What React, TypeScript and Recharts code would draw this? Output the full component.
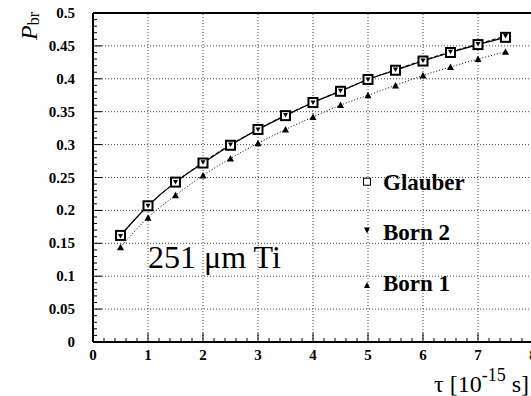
import React from "react";
import { LineChart, Line, XAxis, YAxis, ReferenceLine, Legend } from "recharts";

const tau = [0.5, 1, 1.5, 2, 2.5, 3, 3.5, 4, 4.5, 5, 5.5, 6, 6.5, 7, 7.5];
const glauber = [0.162, 0.207, 0.243, 0.272, 0.299, 0.323, 0.344, 0.364, 0.381, 0.399, 0.413, 0.427, 0.44, 0.452, 0.463];
const born2 = [0.161, 0.207, 0.243, 0.273, 0.3, 0.323, 0.345, 0.364, 0.382, 0.399, 0.414, 0.428, 0.441, 0.453, 0.465];
const born1 = [0.144, 0.189, 0.223, 0.253, 0.279, 0.302, 0.323, 0.342, 0.36, 0.375, 0.39, 0.405, 0.418, 0.43, 0.441];

const xMajor = [0, 1, 2, 3, 4, 5, 6, 7, 8];
const yMajor = [0, 0.05, 0.1, 0.15, 0.2, 0.25, 0.3, 0.35, 0.4, 0.45, 0.5];
const yMajorLabels = ["0", "0.05", "0.1", "0.15", "0.2", "0.25", "0.3", "0.35", "0.4", "0.45", "0.5"];
const xGrid = [1, 2, 3, 4, 5, 6, 7];
const yGrid = [0.05, 0.1, 0.15, 0.2, 0.25, 0.3, 0.35, 0.4, 0.45];

const xTicks: number[] = [];
for (let i = 0; i <= 40; i++) xTicks.push(Math.round(i * 20) / 100);
const yTicks: number[] = [];
for (let i = 0; i <= 50; i++) yTicks.push(i / 100);

const data = tau.map((t, i) => ({ tau: t, glauber: glauber[i], born2: born2[i], born1: born1[i] }));

const serif = "Liberation Serif, Times New Roman, serif";

const XTick = (props: any) => {
  const { x, y, payload } = props;
  const v = payload.value as number;
  const idx = xMajor.findIndex((m) => Math.abs(m - v) < 1e-6);
  const major = idx >= 0;
  return (
    <g>
      <line x1={x} x2={x} y1={y} y2={y - (major ? 9 : 4)} stroke="#000" strokeWidth={1} />
      {major && (
        <text x={x} y={y + 18} textAnchor="middle" fontFamily={serif} fontWeight="bold" fontSize={15} fill="#000">
          {String(xMajor[idx])}
        </text>
      )}
    </g>
  );
};

const YTick = (props: any) => {
  const { x, y, payload } = props;
  const v = payload.value as number;
  const idx = yMajor.findIndex((m) => Math.abs(m - v) < 1e-6);
  const major = idx >= 0;
  return (
    <g>
      <line x1={x} x2={x + (major ? 9 : 4)} y1={y} y2={y} stroke="#000" strokeWidth={1} />
      {major && (
        <text x={x - 18} y={y + 5} textAnchor="end" fontFamily={serif} fontWeight="bold" fontSize={15} fill="#000">
          {yMajorLabels[idx]}
        </text>
      )}
    </g>
  );
};

const SquareDot = (p: any) => {
  if (p.cx == null || p.cy == null) return <g key={p.index} />;
  return <rect key={p.index} x={p.cx - 4.5} y={p.cy - 4.5} width={9} height={9} fill="#fff" stroke="#000" strokeWidth={2} />;
};
const DownDot = (p: any) => {
  if (p.cx == null || p.cy == null) return <g key={p.index} />;
  const { cx, cy } = p;
  return <path key={p.index} d={`M${cx - 2.5},${cy - 2} L${cx + 2.5},${cy - 2} L${cx},${cy + 2.5} Z`} fill="#000" />;
};
const UpDot = (p: any) => {
  if (p.cx == null || p.cy == null) return <g key={p.index} />;
  const { cx, cy } = p;
  return <path key={p.index} d={`M${cx - 3.5},${cy + 3} L${cx + 3.5},${cy + 3} L${cx},${cy - 3.5} Z`} fill="#000" />;
};

const legendItems = [
  { name: "Glauber", kind: "square" },
  { name: "Born 2", kind: "down" },
  { name: "Born 1", kind: "up" },
];

const LegendContent = () => {
  const markerY = [16.7, 65.5, 120];
  const textY = [25, 75, 126];
  return (
    <svg width={180} height={135} style={{ overflow: "visible" }}>
      {legendItems.map((it, i) => {
        const cx = 12;
        const cy = markerY[i];
        let marker;
        if (it.kind === "square") marker = <rect x={cx - 3.5} y={cy - 3.5} width={7} height={7} fill="#fff" stroke="#000" strokeWidth={1} />;
        else if (it.kind === "down") marker = <path d={`M${cx - 3},${cy - 3} L${cx + 3},${cy - 3} L${cx},${cy + 3} Z`} fill="#000" />;
        else marker = <path d={`M${cx - 3},${cy + 3} L${cx + 3},${cy + 3} L${cx},${cy - 3} Z`} fill="#000" />;
        return (
          <g key={it.name}>
            {marker}
            <text x={28} y={textY[i]} fontFamily={serif} fontWeight="bold" fontSize={23} fill="#000">
              {it.name}
            </text>
          </g>
        );
      })}
    </svg>
  );
};

export default function App() {
  return (
    <div style={{ position: "fixed", left: 0, top: 0, width: 531, height: 396, overflow: "hidden", background: "#fff" }}>
      <div style={{ position: "relative", width: 545, height: 396 }}>
        <LineChart width={545} height={396} data={data} margin={{ top: 13, right: 12, left: 0, bottom: 0 }}>
          <XAxis
            dataKey="tau"
            type="number"
            domain={[0, 8]}
            ticks={xTicks}
            interval={0}
            tick={<XTick />}
            tickLine={false}
            tickSize={0}
            tickMargin={0}
            height={54}
            axisLine={{ stroke: "#000", strokeWidth: 2 }}
            allowDataOverflow
          />
          <YAxis
            type="number"
            domain={[0, 0.5]}
            ticks={yTicks}
            interval={0}
            tick={<YTick />}
            tickLine={false}
            tickSize={0}
            tickMargin={0}
            width={93}
            axisLine={{ stroke: "#000", strokeWidth: 2 }}
            allowDataOverflow
          />
          {xGrid.map((v) => (
            <ReferenceLine key={"vx" + v} x={v} stroke="#444" strokeDasharray="1 2" />
          ))}
          {yGrid.map((v) => (
            <ReferenceLine key={"hy" + v} y={v} stroke="#444" strokeDasharray="1 2" />
          ))}
          <ReferenceLine y={0.5} stroke="#000" strokeWidth={2} />
          <Legend
            layout="vertical"
            align="center"
            verticalAlign="middle"
            content={<LegendContent />}
            wrapperStyle={{ left: 355, top: 165, width: 180, height: 135 }}
          />
          <Line type="monotone" dataKey="born1" stroke="#000" strokeWidth={1} strokeDasharray="1 2" dot={UpDot} isAnimationActive={false} />
          <Line type="monotone" dataKey="glauber" stroke="#000" strokeWidth={1.2} dot={SquareDot} isAnimationActive={false} />
          <Line type="monotone" dataKey="born2" stroke="#000" strokeWidth={1} strokeDasharray="4 2" dot={DownDot} isAnimationActive={false} />
        </LineChart>
        <svg width={531} height={396} style={{ position: "absolute", left: 0, top: 0, pointerEvents: "none" }}>
          <text x={148} y={268} fontFamily={serif} fontSize={32} fill="#000">
            251 μm Ti
          </text>
          <text x={434} y={392} fontFamily={serif} fontSize={24} fill="#000">
            τ [10
            <tspan dy={-11} fontSize={18}>-15</tspan>
            <tspan dy={11} fontSize={24}> s]</tspan>
          </text>
          <text transform="translate(37,40) rotate(-90)" fontFamily={serif} fontSize={24} fill="#000">
            <tspan fontStyle="italic">P</tspan>
            <tspan fontSize={16} dy={2}>br</tspan>
          </text>
        </svg>
      </div>
    </div>
  );
}
